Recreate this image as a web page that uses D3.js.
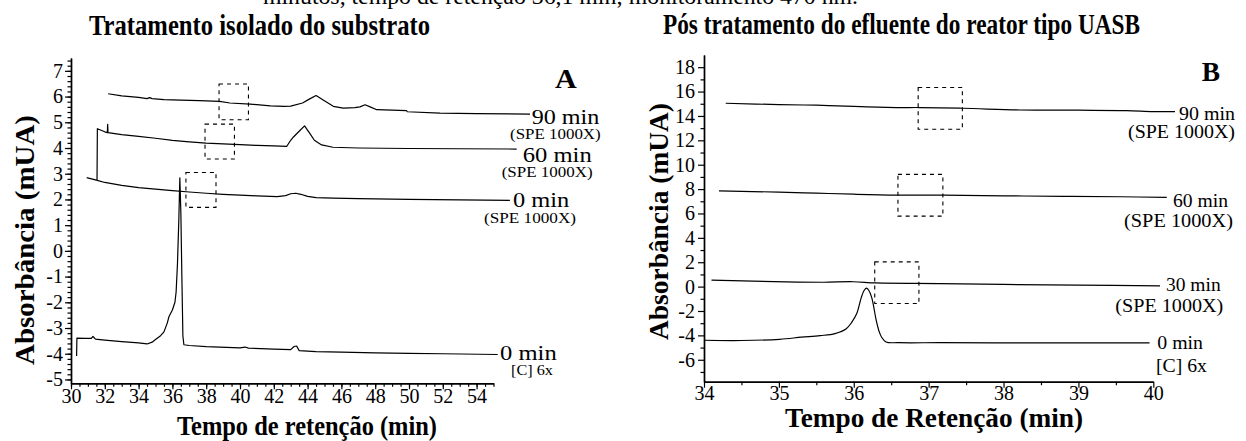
<!DOCTYPE html>
<html>
<head>
<meta charset="utf-8">
<script src="https://cdnjs.cloudflare.com/ajax/libs/d3/7.8.5/d3.min.js"></script>
<style>
  html, body { margin: 0; padding: 0; background: #fff; }
  svg { display: block; }
</style>
</head>
<body>
<svg id="chart" width="1246" height="441"></svg>
<script>
// ---- data: [retention time (min), absorbance (mUA)] ----
var traceA_0C = [[30.33, -4.09], [30.35, -3.39], [30.8, -3.40], [31.2, -3.40], [31.3, -3.33], [31.45, -3.43], [32, -3.47],
	[33, -3.53], [34, -3.58], [34.5, -3.62], [34.8, -3.55], [35.0, -3.45], [35.3, -3.3], [35.5, -3.15], [35.7, -2.8],
	[35.8, -2.55], [36.0, -2.3], [36.15, -2.0], [36.22, -1.6], [36.3, -0.5], [36.38, 1.2], [36.44, 2.84], [36.5, 1.5],
	[36.56, -1.0], [36.62, -3.3], [36.68, -3.65], [37, -3.68], [38, -3.72], [40, -3.77], [40.3, -3.74], [40.5, -3.78],
	[42, -3.82], [43.0, -3.84], [43.2, -3.72], [43.35, -3.70], [43.5, -3.88], [44.5, -3.92], [46, -3.94], [48, -3.97],
	[50, -3.99], [52, -4.0], [55.25, -4.03]];
var traceA_0 = [[30.93, 2.85], [31.5, 2.75], [32, 2.66], [33, 2.55], [34, 2.46], [35, 2.40], [36, 2.34], [37, 2.29],
	[38, 2.24], [39, 2.20], [40, 2.17], [41, 2.14], [42.2, 2.11], [42.7, 2.15], [43.0, 2.22], [43.3, 2.24], [43.6, 2.20],
	[44.0, 2.12], [44.5, 2.07], [45.5, 2.05], [47, 2.03], [50, 2.0], [53, 1.98], [55.97, 1.96]];
var traceA_60 = [[31.54, 2.76], [31.56, 4.75], [32.0, 4.63], [32.15, 4.60], [32.17, 4.92], [32.19, 4.60], [33, 4.52],
	[34, 4.45], [35, 4.38], [36, 4.30], [37, 4.24], [38, 4.19], [39, 4.16], [40, 4.13], [41, 4.10], [42, 4.08],
	[42.76, 4.06], [43.0, 4.30], [43.15, 4.42], [43.5, 4.65], [43.82, 4.86], [44.1, 4.60], [44.4, 4.30], [44.83, 4.12],
	[45.5, 4.03], [47, 4.0], [50, 3.98], [53, 3.97], [56.37, 3.96]];
var traceA_90 = [[32.2, 6.11], [33, 6.03], [34, 5.97], [34.5, 5.92], [34.65, 5.96], [34.8, 5.92], [35.5, 5.88],
	[36.5, 5.86], [37.6, 5.84], [38.8, 5.81], [39.4, 5.75], [40.6, 5.71], [41.8, 5.64], [42.6, 5.62], [43.0, 5.63],
	[43.7, 5.75], [44.1, 5.90], [44.5, 6.04], [44.9, 5.88], [45.52, 5.62], [46.11, 5.55], [46.8, 5.57], [47.1, 5.60],
	[47.4, 5.68], [47.7, 5.60], [48.09, 5.49], [49.0, 5.47], [49.86, 5.45], [49.9, 5.41], [51.83, 5.36], [54, 5.34],
	[57.16, 5.32]];

var traceB_0C = [[34.01, -4.40], [34.5, -4.42], [35.01, -4.32], [35.3, -4.15], [35.55, -4.02], [35.75, -3.85],
	[35.9, -3.45], [35.97, -2.95], [36.04, -2.21], [36.1, -0.9], [36.14, -0.3], [36.17, -0.12], [36.2, -0.3],
	[36.24, -0.9], [36.3, -2.76], [36.34, -3.7], [36.37, -4.13], [36.43, -4.54], [36.6, -4.60], [37.15, -4.60],
	[38, -4.61], [39, -4.62], [39.95, -4.62]];
var traceB_30 = [[34.1, 0.53], [35.1, 0.39], [35.6, 0.36], [35.99, 0.40], [36.3, 0.30], [37.15, 0.25], [38, 0.18],
	[39, 0.12], [40.09, 0.06]];
var traceB_60 = [[34.2, 7.86], [35, 7.75], [35.5, 7.67], [36, 7.58], [36.57, 7.51], [37.2, 7.51], [38, 7.45],
	[38.8, 7.40], [39.55, 7.37], [40.18, 7.32]];
var traceB_90 = [[34.29, 15.04], [35, 14.93], [35.5, 14.88], [36, 14.78], [36.57, 14.69], [36.88, 14.69],
	[37.46, 14.63], [38.22, 14.49], [39.0, 14.47], [39.64, 14.44], [40.0, 14.36], [40.29, 14.36]];

// dashed zoom boxes [t0, t1, v0, v1]
var boxesA = [[38.76, 40.5, 5.10, 6.49], [37.93, 39.67, 3.57, 4.93], [36.8, 38.58, 1.69, 3.05]];
var boxesB = [[36.86, 37.45, 12.91, 16.33], [36.59, 37.19, 5.78, 9.21], [36.28, 36.87, -1.39, 2.03]];

// tick values
var ticksAx = d3.range(30, 55, 2);
var ticksAy = d3.range(-5, 8, 1);
var ticksBx = d3.range(34, 41, 1);
var ticksBy = d3.range(-6, 19, 2);

// texts
var topNote = 'minutos, tempo de retenção 36,1 min; monitoramento 470 nm.';
var titleA = 'Tratamento isolado do substrato';
var titleB = 'Pós tratamento do efluente do reator tipo UASB';
var xTitleA = 'Tempo de retenção (min)';
var xTitleB = 'Tempo de Retenção (min)';
var yTitle = 'Absorbância (mUA)';
var traceNamesA = ['90 min', '60 min', '0 min', '0 min'];
var traceNamesB = ['90 min', '60 min', '30 min', '0 min'];
var subNamesA = ['(SPE 1000X)', '(SPE 1000X)', '(SPE 1000X)', '[C] 6x'];
var subNamesB = ['(SPE 1000X)', '(SPE 1000X)', '(SPE 1000X)', '[C] 6x'];

var FONT = "'Liberation Serif','Times New Roman',Times,serif";
var svg = d3.select('#chart');

var xA = d3.scaleLinear().domain([30, 55]).range([71, 493.5]);
var yA = d3.scaleLinear().domain([-5.15, 7.5]).range([383.3, 58]);
var xB = d3.scaleLinear().domain([34, 40]).range([704, 1153.3]);
var yB = d3.scaleLinear().domain([-7.8, 19]).range([381.7, 55]);

function addText(txt, x, y, size, opt)
{
	opt = opt || {};
	var t = svg.append('text')
		.attr('x', x).attr('y', y)
		.attr('font-family', FONT)
		.attr('font-size', size)
		.attr('font-weight', opt.bold ? 'bold' : 'normal')
		.attr('text-anchor', opt.anchor || 'start')
		.attr('fill', '#000')
		.text(txt);
	if (opt.len)
	{
		t.attr('textLength', opt.len).attr('lengthAdjust', 'spacingAndGlyphs');
	}
	if (opt.rotate)
	{
		t.attr('transform', 'rotate(-90,' + x + ',' + y + ')');
	}
	return t;
}

function drawAxes(x, y, xt, xMinor, yt, yMinor, xFont, yFont, xLabelY, yLabelX)
{
	var g = svg.append('g');
	var h = y.range()[0];
	var l = x.range()[0];

	// minor ticks first, then the major axes on top
	g.append('g').attr('transform', 'translate(0,' + h + ')')
		.call(d3.axisBottom(x).tickValues(xMinor).tickSize(3.5).tickSizeOuter(0).tickFormat(''));
	g.append('g').attr('transform', 'translate(' + l + ',0)')
		.call(d3.axisLeft(y).tickValues(yMinor).tickSize(3.5).tickSizeOuter(0).tickFormat(''));

	var gx = g.append('g').attr('transform', 'translate(0,' + h + ')')
		.call(d3.axisBottom(x).tickValues(xt).tickSize(6).tickSizeOuter(0).tickFormat(d3.format('d')));
	var gy = g.append('g').attr('transform', 'translate(' + l + ',0)')
		.call(d3.axisLeft(y).tickValues(yt).tickSize(6).tickSizeOuter(0).tickFormat(function (d) { return d < 0 ? '-' + Math.abs(d) : d; }));

	gx.selectAll('text').attr('font-family', FONT).attr('font-size', xFont)
		.attr('dy', null).attr('y', xLabelY).attr('fill', '#000');
	gy.selectAll('text').attr('font-family', FONT).attr('font-size', yFont)
		.attr('x', yLabelX).attr('fill', '#000');

	g.selectAll('path.domain').attr('stroke', '#000').attr('stroke-width', 1.4);
	g.selectAll('.tick line').attr('stroke', '#000').attr('stroke-width', 1.2);
}

function drawTraces(traces, x, y, curve)
{
	var line = d3.line().x(function (d) { return x(d[0]); }).y(function (d) { return y(d[1]); }).curve(curve);
	svg.append('g').selectAll('path').data(traces).enter().append('path')
		.attr('d', line)
		.attr('fill', 'none')
		.attr('stroke', '#000')
		.attr('stroke-width', 1.2)
		.attr('stroke-linejoin', 'round');
}

function drawBoxes(boxes, x, y)
{
	svg.append('g').selectAll('rect').data(boxes).enter().append('rect')
		.attr('x', function (d) { return x(d[0]); })
		.attr('y', function (d) { return y(d[3]); })
		.attr('width', function (d) { return x(d[1]) - x(d[0]); })
		.attr('height', function (d) { return y(d[2]) - y(d[3]); })
		.attr('fill', 'none')
		.attr('stroke', '#000')
		.attr('stroke-width', 1.1)
		.attr('stroke-dasharray', '4,4');
}

// ---- headers ----
addText(topNote, 263, 4, 24, {len: 595});
addText(titleA, 89, 34.5, 29, {bold: true, len: 341});
addText(titleB, 663, 34, 29, {bold: true, len: 477});

// ---- panel A ----
drawAxes(xA, yA, ticksAx, d3.range(30, 55.01, 0.5), ticksAy, d3.range(-5, 7.41, 0.2).map(function (v) { return +v.toFixed(1); }),
	20, 20, 20, -8);
drawBoxes(boxesA, xA, yA);
drawTraces([traceA_0C, traceA_0, traceA_60, traceA_90], xA, yA, d3.curveLinear);

addText(traceNamesA[0], 531.7, 124, 22, {len: 67.7});
addText(subNamesA[0], 510, 139, 15, {len: 90.7});
addText(traceNamesA[1], 522.7, 161.7, 22, {len: 69});
addText(subNamesA[1], 501.7, 176.7, 15, {len: 91});
addText(traceNamesA[2], 513, 206.7, 22, {len: 56.3});
addText(subNamesA[2], 484, 223, 15, {len: 92});
addText(traceNamesA[3], 500, 360, 22, {len: 56.7});
addText(subNamesA[3], 511, 375, 15, {len: 42});
addText('A', 555, 88.3, 27, {bold: true, len: 21.7});

addText(xTitleA, 177, 435, 27, {bold: true, len: 260});
addText(yTitle, 34, 240, 28, {bold: true, len: 250, anchor: 'middle', rotate: true});

// ---- panel B ----
drawAxes(xB, yB, ticksBx, d3.range(34.5, 40, 1), ticksBy, d3.range(-7, 19, 2),
	20, 20, 18.5, -9);
drawBoxes(boxesB, xB, yB);
drawTraces([traceB_0C, traceB_30, traceB_60, traceB_90], xB, yB, d3.curveCatmullRom);

addText(traceNamesB[0], 1235, 120, 18, {len: 56, anchor: 'end'});
addText(subNamesB[0], 1235, 138.3, 18, {len: 107, anchor: 'end'});
addText(traceNamesB[1], 1228, 206.7, 18, {len: 55, anchor: 'end'});
addText(subNamesB[1], 1233, 226.7, 18, {len: 109, anchor: 'end'});
addText(traceNamesB[2], 1220.7, 290.7, 18, {len: 54.7, anchor: 'end'});
addText(subNamesB[2], 1223.3, 311.7, 18, {len: 108, anchor: 'end'});
addText(traceNamesB[3], 1203, 349.3, 18, {len: 45.7, anchor: 'end'});
addText(subNamesB[3], 1207, 371.7, 18, {len: 51, anchor: 'end'});
addText('B', 1201.7, 80.7, 27, {bold: true, len: 18.3});

addText(xTitleB, 785, 426.7, 27, {bold: true, len: 298});
addText(yTitle, 668, 221.5, 27, {bold: true, len: 237, anchor: 'middle', rotate: true});
</script>
</body>
</html>
